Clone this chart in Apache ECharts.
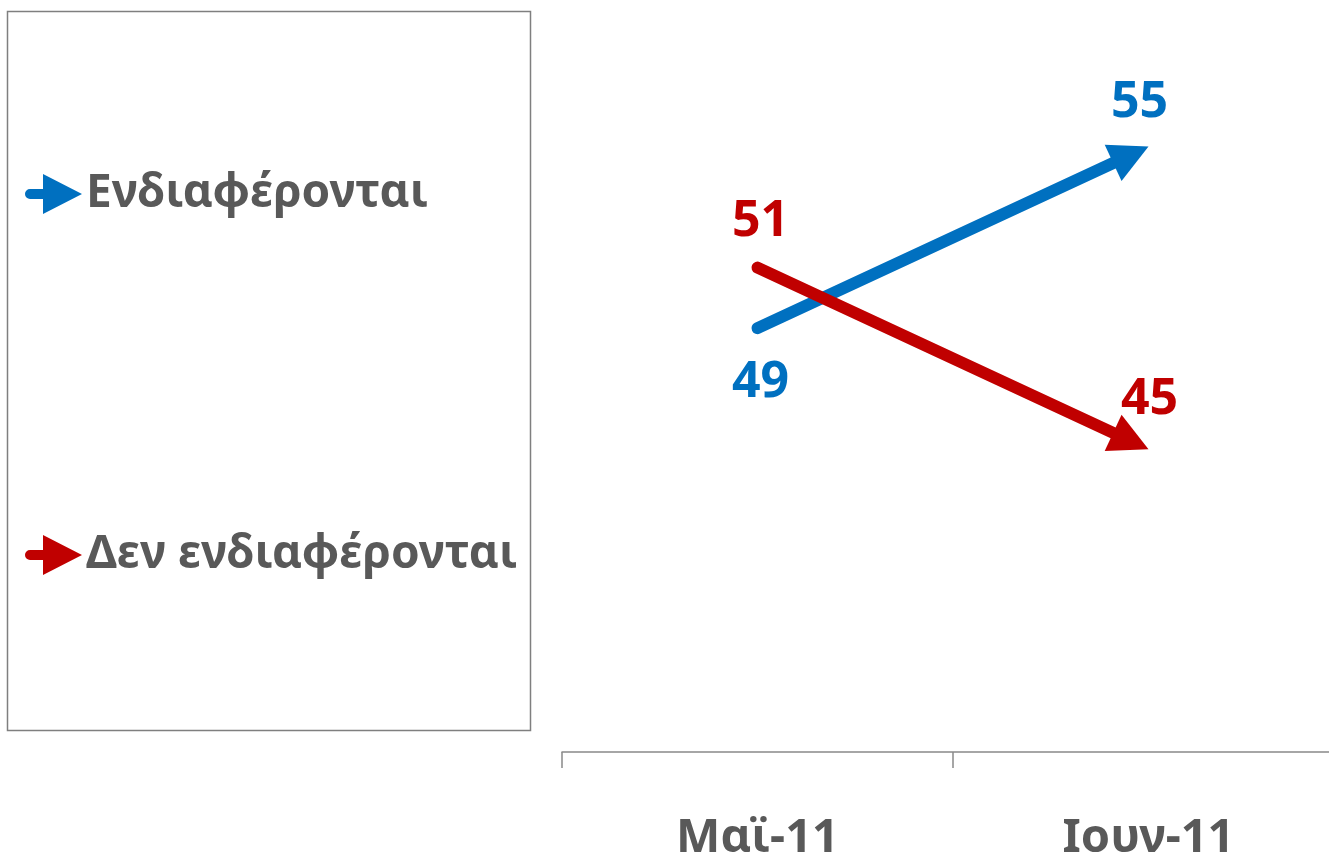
<!DOCTYPE html>
<html>
<head>
<meta charset="utf-8">
<script src="https://cdn.jsdelivr.net/npm/echarts@6/dist/echarts.min.js"></script>
<style>
html,body{margin:0;padding:0;background:#fff;}
#chart{width:1329px;height:856px;}
</style>
</head>
<body>
<div id="chart"></div>
<script>
const categories = ['Μαϊ-11', 'Ιουν-11'];
const seriesNames = ['Ενδιαφέρονται', 'Δεν ενδιαφέρονται'];
const interested = [49, 55];
const notInterested = [51, 45];
const colors = ['#0070C0', '#C00000'];

const FONT = '"Noto Sans", "Open Sans", sans-serif';
const arrowIcon = 'path://M5,15 L18,15 L18,0 L57,20 L18,40 L18,25 L5,25 A5,5 0 0 1 5,15 Z';

function arrowRender(color) {
  return function (params, api) {
    const p0 = api.coord([api.value(0), api.value(1)]);
    const p1 = api.coord([api.value(2), api.value(3)]);
    const dx = p1[0] - p0[0], dy = p1[1] - p0[1];
    const L = Math.hypot(dx, dy);
    const ux = dx / L, uy = dy / L, nx = -uy, ny = ux;
    const head = 39, half = 20;
    const bx = p1[0] - ux * head, by = p1[1] - uy * head;
    const ex = p1[0] - ux * (head - 6), ey = p1[1] - uy * (head - 6);
    return {
      type: 'group',
      children: [
        { type: 'line', shape: { x1: p0[0], y1: p0[1], x2: ex, y2: ey },
          style: { stroke: color, lineWidth: 12, lineCap: 'round' } },
        { type: 'polygon', shape: { points: [[p1[0], p1[1]], [bx + nx * half, by + ny * half], [bx - nx * half, by - ny * half]] },
          style: { fill: color } }
      ]
    };
  };
}

function labelSeries(name, values, color, positions) {
  return {
    name: name,
    type: 'line',
    data: values.map((v, i) => ({ value: v, label: positions[i] })),
    symbol: 'circle',
    symbolSize: 0.01,
    showSymbol: true,
    lineStyle: { width: 0, opacity: 0 },
    itemStyle: { color: color },
    label: {
      show: true,
      color: color,
      fontFamily: FONT,
      fontWeight: 'bold',
      fontSize: 50,
      lineHeight: 50
    },
    z: 5
  };
}

const chart = echarts.init(document.getElementById('chart'));
chart.setOption({
  animation: false,
  backgroundColor: '#ffffff',
  graphic: [{
    type: 'rect',
    shape: { x: 7.5, y: 11.5, width: 523, height: 719 },
    style: { fill: 'none', stroke: '#7f7f7f', lineWidth: 1.5 },
    silent: true
  }],
  legend: {
    orient: 'vertical',
    left: 20,
    top: 166,
    itemWidth: 57,
    itemHeight: 40,
    itemGap: 315,
    selectedMode: false,
    data: [
      { name: seriesNames[0], icon: arrowIcon, itemStyle: { color: colors[0] } },
      { name: seriesNames[1], icon: arrowIcon, itemStyle: { color: colors[1] } }
    ],
    textStyle: { color: '#595959', fontFamily: FONT, fontWeight: 'bold', fontSize: 46, lineHeight: 40, padding: [0, 0, 0, -1] }
  },
  grid: { left: 562, top: 86, width: 782, height: 666, containLabel: false, outerBoundsMode: 'none' },
  xAxis: {
    type: 'category',
    data: categories,
    boundaryGap: true,
    axisLine: { lineStyle: { color: '#898989', width: 1.5 } },
    axisTick: { show: true, length: 16, lineStyle: { color: '#898989', width: 1.5 } },
    axisLabel: { color: '#595959', fontFamily: FONT, fontWeight: 'bold', fontSize: 47, margin: 63 }
  },
  yAxis: { type: 'value', min: 35, max: 57, show: false, splitLine: { show: false } },
  series: [
    {
      name: seriesNames[0], type: 'custom', renderItem: arrowRender(colors[0]),
      itemStyle: { color: colors[0] },
      encode: { x: [0, 2], y: [1, 3] },
      data: [[0, interested[0], 1, interested[1]]], z: 3
    },
    {
      name: seriesNames[1], type: 'custom', renderItem: arrowRender(colors[1]),
      itemStyle: { color: colors[1] },
      encode: { x: [0, 2], y: [1, 3] },
      data: [[0, notInterested[0], 1, notInterested[1]]], z: 4
    },
    labelSeries(seriesNames[0], interested, colors[0], [
      { position: 'bottom', distance: 30, offset: [3, 0] },
      { position: 'top', distance: 19, offset: [-9, 0] }
    ]),
    labelSeries(seriesNames[1], notInterested, colors[1], [
      { position: 'top', distance: 21, offset: [3, 0] },
      { position: 'top', distance: 25, offset: [1, 0] }
    ])
  ]
});
</script>
</body>
</html>
